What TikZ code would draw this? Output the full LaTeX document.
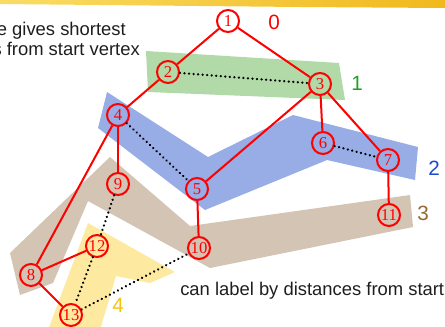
\documentclass[tikz,border=0pt]{standalone}
\usepackage{fontspec}
\setmainfont{Liberation Serif}
\newfontfamily\arialf{Liberation Sans}
\definecolor{gfill}{RGB}{178,218,168}
\definecolor{bfill}{RGB}{152,172,230}
\definecolor{brfill}{RGB}{212,196,180}
\definecolor{yfill}{RGB}{253,234,160}
\definecolor{lgreen}{RGB}{30,160,40}
\definecolor{lblue}{RGB}{25,75,205}
\definecolor{lbrown}{RGB}{150,105,50}
\definecolor{lgold}{RGB}{245,195,10}
\definecolor{txt}{RGB}{30,30,30}
\definecolor{bandL}{RGB}{250,220,100}
\definecolor{bandR}{RGB}{240,185,30}
\tikzset{
  region/.style={fill=#1},
  vtx/.style={circle, draw=red, line width=1.5pt, minimum size=16.5pt, inner sep=0pt, text=red, font=\fontsize{12.5}{13}\selectfont},
  tree/.style={draw=red, line width=1.5pt},
  cross/.style={draw=black, line width=1.9pt, line cap=round, dash pattern=on 0.01pt off 3.4pt},
  lvl/.style={font=\arialf\fontsize{15.5}{17}\selectfont},
  say/.style={font=\arialf\fontsize{13.8}{16}\selectfont, text=txt, inner sep=0pt}
}
\begin{document}
\begin{tikzpicture}[x=0.75pt,y=-0.75pt]
\useasboundingbox (0,0) rectangle (445,326);
% top brush band
\shade[left color=bandL, right color=bandR] (0,0) -- (445,0) -- (445,8) -- (300,7) -- (100,5) -- (0,4) -- cycle;
% level regions
\path[region=brfill] (110,157) -- (10,253) -- (20,295) -- (53,283) -- (88,201) -- (210,268) -- (413,227) -- (410,195) -- (190,226) -- cycle;
\path[region=yfill] (88,223) -- (175,272) -- (150,283) -- (116,276) -- (100,330) -- (48,330) -- cycle;
\path[region=bfill] (107,92) -- (208,157) -- (293,115) -- (418,147) -- (415,180) -- (327,160) -- (205,210) -- (98,128) -- cycle;
\path[region=gfill] (146,51) -- (339,63) -- (345,100) -- (148,92) -- cycle;
% texts
\node[say, anchor=base east] (t1) at (126,35) {e gives shortest};
\node[say, anchor=base east] (t2) at (140,55) {s from start vertex};
\node[say, anchor=base west] (t3) at (180,295) {can label by distances from start};
% level labels
\node[lvl, text=red] (l0) at (274,22) {0};
\node[lvl, text=lgreen] (l1) at (357,83) {1};
\node[lvl, text=lblue] (l2) at (434,168) {2};
\node[lvl, text=lbrown] (l3) at (423,213) {3};
\node[lvl, text=lgold] (l4) at (118,305) {4};
% vertices
\node[vtx] (n1) at (228,21) {1};
\node[vtx] (n2) at (168,72) {2};
\node[vtx] (n3) at (320,84) {3};
\node[vtx] (n4) at (118,115) {4};
\node[vtx] (n5) at (197,189) {5};
\node[vtx] (n6) at (323,143) {6};
\node[vtx] (n7) at (388,160) {7};
\node[vtx] (n8) at (31,275) {8};
\node[vtx] (n9) at (118,184) {9};
\node[vtx] (n10) at (199,248) {10};
\node[vtx] (n11) at (389,215) {11};
\node[vtx] (n12) at (97,246) {12};
\node[vtx] (n13) at (71,315) {13};
% tree edges
\draw[tree] (n1) -- (n2);
\draw[tree] (n1) -- (n3);
\draw[tree] (n2) -- (n4);
\draw[tree] (n3) -- (n5);
\draw[tree] (n3) -- (n6);
\draw[tree] (n3) -- (n7);
\draw[tree] (n4) -- (n9);
\draw[tree] (n4) -- (n8);
\draw[tree] (n5) -- (n10);
\draw[tree] (n7) -- (n11);
\draw[tree] (n8) -- (n12);
\draw[tree] (n8) -- (n13);
% cross edges
\draw[cross] (n2) -- (n3);
\draw[cross] (n4) -- (n5);
\draw[cross] (n6) -- (n7);
\draw[cross] (n9) -- (n12);
\draw[cross] (n12) -- (n13);
\draw[cross] (n13) -- (n10);
\end{tikzpicture}
\end{document}
